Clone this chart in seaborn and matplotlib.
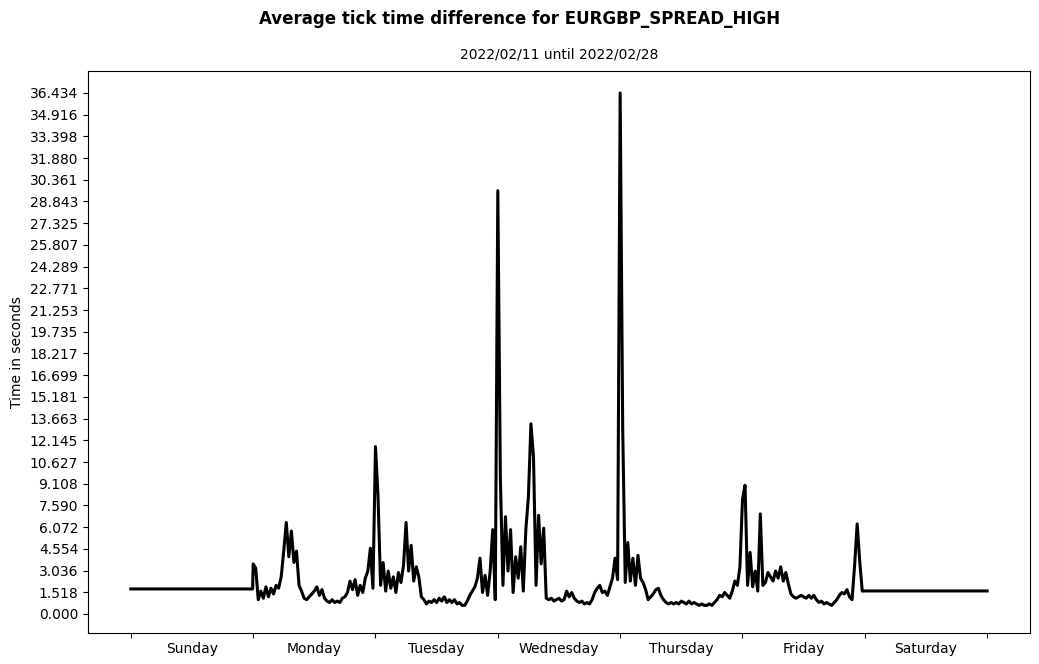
import numpy as np
import pandas as pd
import matplotlib
matplotlib.use("Agg")
import matplotlib.pyplot as plt
import seaborn as sns

days = ["Sunday", "Monday", "Tuesday", "Wednesday", "Thursday", "Friday", "Saturday"]
title = "Average tick time difference for EURGBP_SPREAD_HIGH"
subtitle = "2022/02/11 until 2022/02/28"

sunday_level = 1.75
saturday_level = 1.61

monday = [3.5, 3.2, 1.0, 1.6, 1.1, 1.9, 1.2, 1.8, 1.4, 2.0, 1.8, 2.6,
          4.4, 6.4, 4.0, 5.8, 3.6, 4.4, 2.0, 1.6, 1.1, 1.0, 1.2, 1.4,
          1.6, 1.9, 1.3, 1.7, 1.1, 0.9, 0.8, 1.0, 0.8, 0.9, 0.8, 1.1,
          1.2, 1.5, 2.3, 1.7, 2.4, 1.3, 2.0, 1.5, 2.5, 3.0, 4.6, 1.8]
tuesday = [11.7, 8.2, 2.0, 3.6, 1.6, 3.0, 1.8, 2.6, 1.5, 2.9, 2.2, 3.4,
           6.4, 3.0, 4.8, 2.3, 3.3, 2.6, 1.2, 1.0, 0.7, 0.9, 0.8, 1.0,
           0.8, 1.1, 0.9, 1.2, 0.8, 1.0, 0.8, 1.0, 0.7, 0.8, 0.6, 0.6,
           0.9, 1.3, 1.6, 1.9, 2.5, 3.9, 1.5, 2.7, 1.3, 3.0, 5.9, 1.0]
wednesday = [29.6, 9.5, 2.0, 6.8, 3.0, 5.9, 1.5, 4.0, 2.5, 4.7, 1.6, 5.9,
             8.2, 13.3, 11.0, 2.0, 6.9, 3.5, 6.0, 1.1, 1.0, 1.1, 0.9, 1.0,
             1.1, 0.9, 1.0, 1.6, 1.2, 1.5, 1.1, 0.9, 0.8, 0.9, 0.7, 0.8,
             0.7, 1.0, 1.5, 1.8, 2.0, 1.5, 1.6, 1.3, 1.9, 2.5, 3.9, 2.4]
thursday = [36.43375, 13.0, 2.2, 5.0, 2.3, 3.9, 2.0, 4.1, 2.5, 2.2, 1.7, 1.0,
            1.2, 1.4, 1.7, 1.8, 1.3, 1.0, 0.8, 0.7, 0.8, 0.7, 0.8, 0.7,
            0.9, 0.8, 0.7, 0.9, 0.7, 0.8, 0.7, 0.6, 0.7, 0.6, 0.6, 0.7,
            0.6, 0.8, 1.0, 1.3, 1.2, 1.5, 1.3, 1.1, 1.6, 2.3, 2.0, 3.3]
friday = [8.0, 9.0, 2.0, 4.3, 1.9, 3.0, 1.6, 7.0, 2.0, 2.2, 2.9, 2.6,
          2.3, 3.0, 2.5, 3.3, 2.3, 2.9, 2.1, 1.4, 1.2, 1.1, 1.2, 1.3,
          1.2, 1.1, 1.3, 1.1, 1.3, 1.0, 0.8, 0.9, 0.7, 0.8, 0.7, 0.6,
          0.8, 1.0, 1.3, 1.5, 1.4, 1.7, 1.2, 1.0, 3.4, 6.3, 3.7, 1.6]

# build hourly positions (hours since Sunday 00:00)
xs, ys = [0.0, 23.9], [sunday_level, sunday_level]
for d, vals in enumerate([monday, tuesday, wednesday, thursday, friday], start=1):
    n = len(vals)
    xs.extend(list(d * 24 + np.arange(n) * 24.0 / n))
    ys.extend(vals)
xs.extend([144.1, 168.0])
ys.extend([saturday_level, saturday_level])
df = pd.DataFrame({"hour": xs, "seconds": ys})

fig, ax = plt.subplots(figsize=(10.39, 6.64), dpi=100)
fig.subplots_adjust(left=0.0847, right=0.9913, top=0.8931, bottom=0.0467)

sns.lineplot(data=df, x="hour", y="seconds", color="black", linewidth=2.2, ax=ax)

ymax = max(ys)
ax.set_yticks(np.linspace(0, ymax, 25))
ax.set_yticklabels([f"{v:.3f}" for v in np.linspace(0, ymax, 25)])
ax.set_ylim(-1.33, 37.97)

ax.set_xticks(np.arange(0, 169, 24))
ax.set_xticklabels([""] * 8)
ax.set_xticks(np.arange(12, 168, 24), minor=True)
ax.set_xticklabels(days, minor=True)
ax.tick_params(axis="x", which="minor", length=0, pad=6.5)
ax.set_xlim(-8.4, 176.4)

ax.set_xlabel("")
ax.set_ylabel("Time in seconds")
ax.set_title(subtitle, fontsize=10, pad=9)
fig.suptitle(title, fontsize=12, fontweight="bold", y=0.985)

fig.savefig("out.png", dpi=100)
